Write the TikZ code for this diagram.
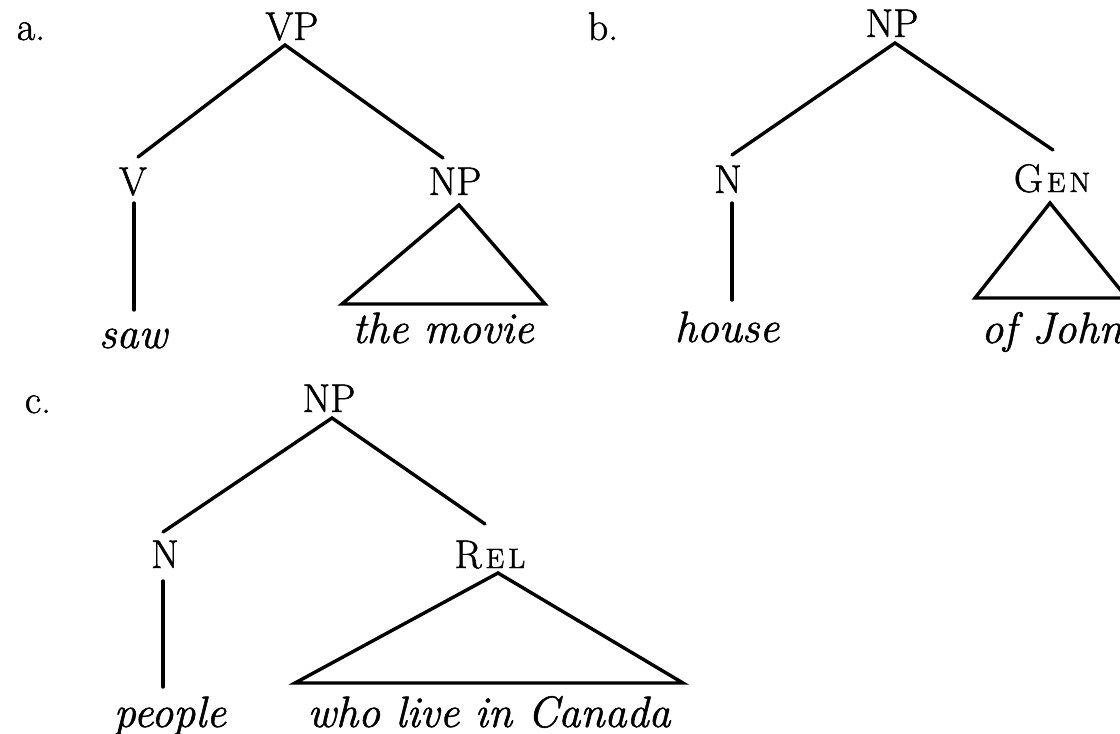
\documentclass[tikz,border=0pt]{standalone}
\usepackage{tikz}
\usepackage{fontspec}
\setmainfont{Latin Modern Roman}[FakeBold=1.2]

\tikzset{
  cat/.style={font=\fontsize{20}{24}\selectfont, inner sep=0pt, anchor=base},
  leaf/.style={font=\fontsize{22}{26}\selectfont\itshape, inner sep=0pt, anchor=base},
  tag/.style={font=\fontsize{20}{24}\selectfont, inner sep=0pt, anchor=base},
  branch/.style={line width=1.7pt, line cap=round},
  roof/.style={line width=1.7pt, line join=miter},
}
% capital followed by spaced reduced capitals, as in the category labels
\newcommand{\catsc}[3]{#1\kern2pt{\fontsize{14}{17}\selectfont #2\kern2pt #3}}

\begin{document}
\begin{tikzpicture}[x=0.5pt, y=-0.5pt]
  \useasboundingbox (0,0) rectangle (1120,734);
  \clip (0,0) rectangle (1120,734);

  % ---------- (a) VP -> V NP ----------
  \node[tag]  (a-lab) at (31,40)   {a.};
  \node[cat]  (a-vp)  at (292,40)  {VP};
  \node[cat]  (a-v)   at (133,195) {V};
  \node[cat]  (a-np)  at (455,195) {NP};
  \node[leaf] (a-saw) at (133,348) {saw};
  \node[leaf] (a-mov) at (443,343) {the movie};

  \coordinate (a-top)   at (285,45);
  \coordinate (a-vin)   at (138,157);
  \coordinate (a-npin)  at (443,158);
  \coordinate (a-vout)  at (134,203);
  \coordinate (a-sawin) at (134,310);
  \coordinate (a-apex)  at (459,205);
  \coordinate (a-bl)    at (342,304);
  \coordinate (a-br)    at (545,304);

  \draw[branch] (a-vin) -- (a-top) -- (a-npin);
  \draw[branch] (a-vout) -- (a-sawin);
  \draw[roof] (a-apex) -- (a-bl) -- (a-br) -- cycle;

  % ---------- (b) NP -> N Gen ----------
  \node[tag]  (b-lab) at (603,40)   {b.};
  \node[cat]  (b-np)  at (892,37)   {NP};
  \node[cat]  (b-n)   at (728,193)  {N};
  \node[cat]  (b-gen) at (1052,192) {\catsc{G}{E}{N}};
  \node[leaf] (b-hse) at (727,342)  {house};
  \node[leaf] (b-ofj) at (1052,343) {of John};

  \coordinate (b-top)   at (895,43);
  \coordinate (b-nin)   at (732,155);
  \coordinate (b-genin) at (1053,150);
  \coordinate (b-nout)  at (732,203);
  \coordinate (b-hsein) at (732,300);
  \coordinate (b-apex)  at (1050,203);
  \coordinate (b-bl)    at (975,298);
  \coordinate (b-br)    at (1127,298);

  \draw[branch] (b-nin) -- (b-top) -- (b-genin);
  \draw[branch] (b-nout) -- (b-hsein);
  \draw[roof] (b-apex) -- (b-bl) -- (b-br) -- cycle;

  % ---------- (c) NP -> N Rel ----------
  \node[tag]  (c-lab) at (38,413)   {c.};
  \node[cat]  (c-np)  at (329,412)  {NP};
  \node[cat]  (c-n)   at (165,568)  {N};
  \node[cat]  (c-rel) at (490,568)  {\catsc{R}{E}{L}};
  \node[leaf] (c-ppl) at (170,727)  {people};
  \node[leaf] (c-who) at (489,727)  {who live in Canada};

  \coordinate (c-top)   at (332,418);
  \coordinate (c-nin)   at (163,532);
  \coordinate (c-relin) at (485,524);
  \coordinate (c-nout)  at (163,581);
  \coordinate (c-pplin) at (163,687);
  \coordinate (c-apex)  at (498,573);
  \coordinate (c-bl)    at (295,683);
  \coordinate (c-br)    at (683,683);

  \draw[branch] (c-nin) -- (c-top) -- (c-relin);
  \draw[branch] (c-nout) -- (c-pplin);
  \draw[roof] (c-apex) -- (c-bl) -- (c-br) -- cycle;
\end{tikzpicture}
\end{document}
